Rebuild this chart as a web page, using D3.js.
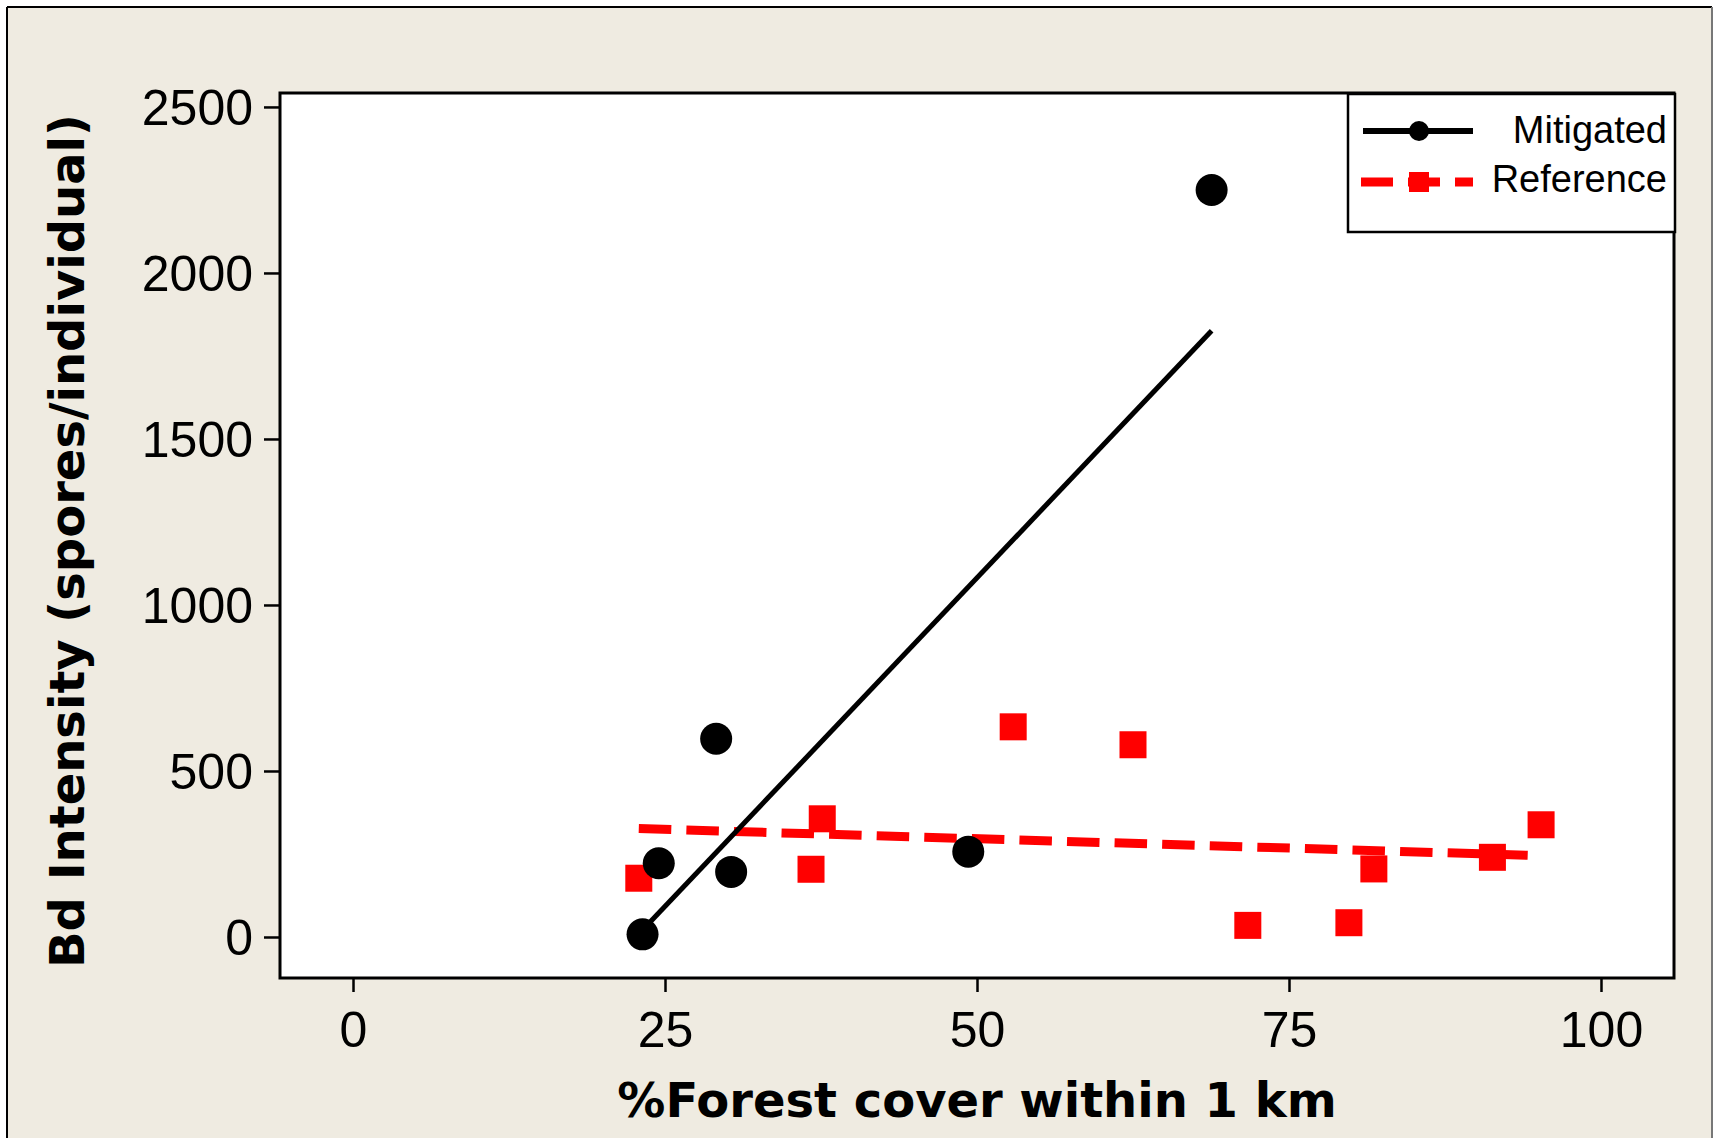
<!DOCTYPE html>
<html>
<head>
<meta charset="utf-8">
<script src="https://cdn.jsdelivr.net/npm/d3@7"></script>
<style>
  html, body { margin: 0; padding: 0; background: #ffffff; }
  svg { display: block; }
</style>
</head>
<body>
<svg id="chart" width="1719" height="1138"></svg>
<script>
// ---- data ----
const mitigatedX = [23.2, 24.5, 29.1, 30.3, 49.3, 68.8];
const mitigatedY = [8, 222, 597, 196, 257, 2250];
const referenceX = [22.9, 36.7, 37.6, 52.9, 62.5, 71.7, 79.8, 81.8, 91.3, 95.2];
const referenceY = [177, 204, 356, 633, 579, 35, 43, 205, 240, 338];
const xTicks = [0, 25, 50, 75, 100];
const yTicks = [0, 500, 1000, 1500, 2000, 2500];
const seriesNames = ["Mitigated", "Reference"];
const xTitle = "%Forest cover within 1 km";
const yTitle = "Bd Intensity (spores/individual)";

// ---- layout ----
const W = 1719, H = 1138;
const plot = { left: 280, top: 93, right: 1674, bottom: 978 };
const svg = d3.select("#chart");

const x = d3.scaleLinear().domain([-5.85, 105.85]).range([plot.left, plot.right]);
const y = d3.scaleLinear().domain([-123.5, 2542]).range([plot.bottom, plot.top]);

// background panel
svg.append("rect").attr("x", 0).attr("y", 0).attr("width", W).attr("height", H).attr("fill", "#ffffff");
svg.append("rect").attr("x", 7).attr("y", 7).attr("width", 1705).attr("height", 1200)
  .attr("fill", "#EFEBE1").attr("stroke", "none");
svg.append("line").attr("x1", 7).attr("y1", 7).attr("x2", 1712).attr("y2", 7).attr("stroke", "#000").attr("stroke-width", 2);
svg.append("line").attr("x1", 7).attr("y1", 7).attr("x2", 7).attr("y2", H).attr("stroke", "#000").attr("stroke-width", 2);
svg.append("line").attr("x1", 1712).attr("y1", 7).attr("x2", 1712).attr("y2", H).attr("stroke", "#777").attr("stroke-width", 2);

// plot area
svg.append("rect").attr("x", plot.left).attr("y", plot.top)
  .attr("width", plot.right - plot.left).attr("height", plot.bottom - plot.top)
  .attr("fill", "#ffffff");

// axes
const tickFont = "'Liberation Sans', Arial, sans-serif";
const yAxis = svg.append("g").attr("transform", `translate(${plot.left},0)`)
  .call(d3.axisLeft(y).tickValues(yTicks).tickFormat(d3.format("d")).tickSize(16).tickPadding(11).tickSizeOuter(0));
yAxis.select(".domain").remove();
yAxis.selectAll(".tick line").attr("stroke", "#000").attr("stroke-width", 2.5);
yAxis.selectAll(".tick text").attr("font-family", tickFont).attr("font-size", 50).attr("fill", "#000").attr("dy", "0.36em");

const xAxis = svg.append("g").attr("transform", `translate(0,${plot.bottom})`)
  .call(d3.axisBottom(x).tickValues(xTicks).tickFormat(d3.format("d")).tickSize(14).tickPadding(19).tickSizeOuter(0));
xAxis.select(".domain").remove();
xAxis.selectAll(".tick line").attr("stroke", "#000").attr("stroke-width", 2.5);
xAxis.selectAll(".tick text").attr("font-family", tickFont).attr("font-size", 50).attr("fill", "#000");

// regression helper
function fit(xs, ys) {
  const mx = d3.mean(xs), my = d3.mean(ys);
  let sxy = 0, sxx = 0;
  xs.forEach((v, i) => { sxy += (v - mx) * (ys[i] - my); sxx += (v - mx) * (v - mx); });
  const b = sxy / sxx, a = my - b * mx;
  const x0 = d3.min(xs), x1 = d3.max(xs);
  return [[x0, a + b * x0], [x1, a + b * x1]];
}
const line = d3.line().x(d => x(d[0])).y(d => y(d[1]));

// reference fit (dashed red)
svg.append("path").datum(fit(referenceX, referenceY)).attr("d", line)
  .attr("fill", "none").attr("stroke", "#FF0000").attr("stroke-width", 9)
  .attr("stroke-dasharray", "32.5,15.1");

// mitigated fit (solid black)
svg.append("path").datum(fit(mitigatedX, mitigatedY)).attr("d", line)
  .attr("fill", "none").attr("stroke", "#000").attr("stroke-width", 5);

// reference squares
const sq = 27;
svg.append("g").selectAll("rect").data(referenceX.map((v, i) => [v, referenceY[i]])).join("rect")
  .attr("x", d => x(d[0]) - sq / 2).attr("y", d => y(d[1]) - sq / 2)
  .attr("width", sq).attr("height", sq).attr("fill", "#FF0000");

// mitigated circles
svg.append("g").selectAll("circle").data(mitigatedX.map((v, i) => [v, mitigatedY[i]])).join("circle")
  .attr("cx", d => x(d[0])).attr("cy", d => y(d[1])).attr("r", 16).attr("fill", "#000");

// plot border
svg.append("rect").attr("x", plot.left).attr("y", plot.top)
  .attr("width", plot.right - plot.left).attr("height", plot.bottom - plot.top)
  .attr("fill", "none").attr("stroke", "#000").attr("stroke-width", 3);

// legend
const lg = svg.append("g");
lg.append("rect").attr("x", 1348).attr("y", 94).attr("width", 327).attr("height", 138)
  .attr("fill", "#fff").attr("stroke", "#000").attr("stroke-width", 2.5);
lg.append("line").attr("x1", 1363).attr("x2", 1473).attr("y1", 131).attr("y2", 131)
  .attr("stroke", "#000").attr("stroke-width", 6);
lg.append("circle").attr("cx", 1419).attr("cy", 131).attr("r", 10).attr("fill", "#000");
lg.append("line").attr("x1", 1361).attr("x2", 1473).attr("y1", 182).attr("y2", 182)
  .attr("stroke", "#FF0000").attr("stroke-width", 9).attr("stroke-dasharray", "32,15");
lg.append("rect").attr("x", 1409).attr("y", 172).attr("width", 20).attr("height", 20).attr("fill", "#FF0000");
lg.selectAll("text").data(seriesNames).join("text")
  .attr("x", 1667).attr("y", (d, i) => 143 + i * 49)
  .attr("text-anchor", "end").attr("font-family", tickFont).attr("font-size", 38).attr("fill", "#000")
  .text(d => d);

// titles
const titleFont = "'DejaVu Sans', Verdana, sans-serif";
svg.append("text").attr("x", (plot.left + plot.right) / 2).attr("y", 1117)
  .attr("text-anchor", "middle").attr("font-family", titleFont).attr("font-weight", "bold")
  .attr("font-size", 48).attr("fill", "#000").text(xTitle);
svg.append("text").attr("transform", `translate(84,541) rotate(-90)`)
  .attr("text-anchor", "middle").attr("font-family", titleFont).attr("font-weight", "bold")
  .attr("font-size", 48).attr("fill", "#000").text(yTitle);
</script>
</body>
</html>
